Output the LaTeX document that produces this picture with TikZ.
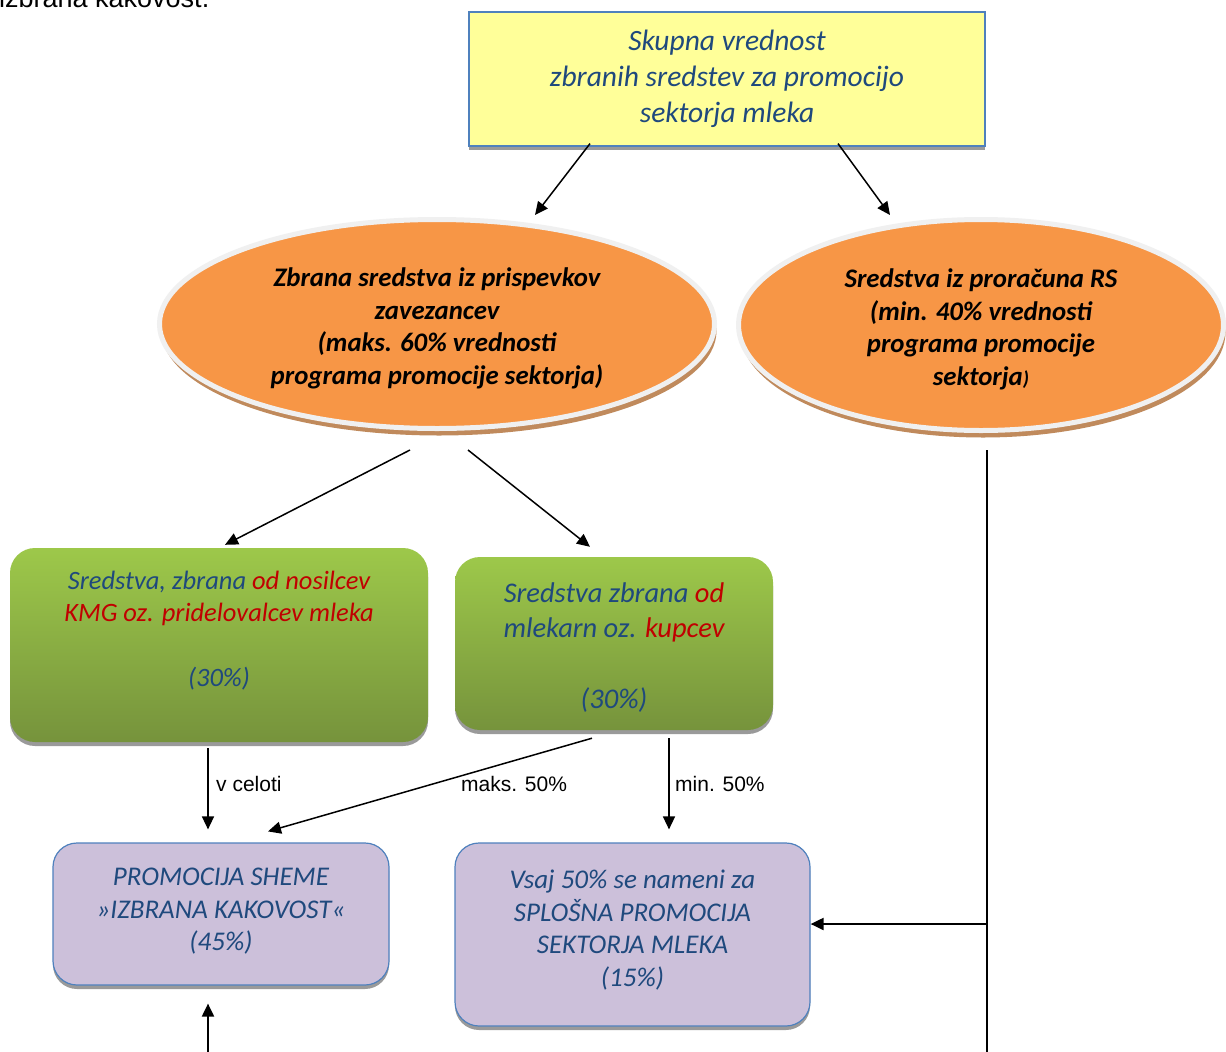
\documentclass[tikz,border=0pt]{standalone}
\usepackage{fontspec}
\setmainfont{Carlito}
\newfontfamily\arialf{Liberation Sans}
\usetikzlibrary{arrows.meta,shapes.geometric,shadows,calc}
\definecolor{ybox}{HTML}{FFFF99}
\definecolor{bord}{HTML}{4F81BD}
\definecolor{tblue}{HTML}{1F497D}
\definecolor{tred}{HTML}{C00000}
\definecolor{orng}{HTML}{F79646}
\definecolor{gtop}{HTML}{9DC84A}
\definecolor{gbot}{HTML}{76933C}
\definecolor{purp}{HTML}{CCC0DA}
\definecolor{shad}{HTML}{9A9A9A}
\definecolor{bshad}{HTML}{C08A5C}
\definecolor{rim}{HTML}{F0F0F0}
\begin{document}
\begin{tikzpicture}[x=1pt,y=-1pt,
  every node/.style={inner sep=0pt},
  yellowbox/.style={draw=bord, line width=1.2pt, fill=ybox, align=center, text=tblue,
    font=\fontsize{29.5}{36}\selectfont\itshape,
    drop shadow={fill=shad, opacity=1, shadow xshift=0pt, shadow yshift=-4pt}},
  ellbox/.style={shape=ellipse, draw=rim, line width=5pt, fill=orng, align=center, text=black,
    font=\fontsize{26.8}{32.5}\selectfont\bfseries\itshape,
    drop shadow={fill=bshad, opacity=1, shadow xshift=2pt, shadow yshift=-7pt}},
  greenbox/.style={rounded corners=25pt, top color=gtop, bottom color=gbot, draw=none, align=center, text=tblue,
    drop shadow={fill=shad, opacity=1, shadow xshift=0pt, shadow yshift=-4pt}},
  purpbox/.style={rounded corners=24pt, draw=bord, line width=1.2pt, fill=purp, align=center, text=tblue,
    font=\fontsize{27}{32.5}\selectfont\itshape,
    drop shadow={fill=shad, opacity=1, shadow xshift=0pt, shadow yshift=-4pt}},
  arr/.style={line width=1.5pt, -{Triangle[length=13pt,width=12pt]}},
  lbl/.style={font=\arialf\fontsize{21}{24}\selectfont, anchor=west, text=black}
]
\useasboundingbox (0,0) rectangle (1226,1052);
\clip (0,0) rectangle (1226,1052);
\fill[white] (0,0) rectangle (1226,1052);

\node[font=\arialf\fontsize{27}{30}\selectfont, anchor=base west, text=black] (intro) at (-1,7) {izbrana kakovost.};

\node[yellowbox, minimum width=516pt, minimum height=134pt] (top) at (727,79)
  {Skupna vrednost\\zbranih sredstev za promocijo\\sektorja mleka};

\node[ellbox, minimum width=555pt, minimum height=209pt] (el1) at (437,324)
  {\mbox{}\\[-4.5pt]Zbrana sredstva iz prispevkov\\zavezancev\\(maks. 60\% vrednosti\\programa promocije sektorja)};

\node[ellbox, minimum width=485pt, minimum height=211pt] (el2) at (981,325)
  {\mbox{}\\[-4.5pt]Sredstva iz proračuna RS\\(min. 40\% vrednosti\\programa promocije\\sektorja{\fontsize{20}{20}\selectfont)}};

\node[greenbox, minimum width=418pt, minimum height=194pt,
  font=\fontsize{26.5}{32.5}\selectfont\itshape] (g1) at (219,645)
  {Sredstva, zbrana {\color{tred}od nosilcev}\\{\color{tred}KMG oz. pridelovalcev mleka}\\\mbox{}\\(30\%)\\\mbox{}};

\node[greenbox, minimum width=318pt, minimum height=173pt,
  font=\fontsize{28.5}{35.5}\selectfont\itshape] (g2) at (614,643.5)
  {\mbox{}\\[-7.5pt]Sredstva zbrana {\color{tred}od}\\mlekarn oz. {\color{tred}kupcev}\\\mbox{}\\(30\%)};

\node[purpbox, minimum width=336pt, minimum height=142pt] (p1) at (221,914)
  {PROMOCIJA SHEME\\»IZBRANA KAKOVOST«\\(45\%)\\[-23pt]\mbox{}};

\node[purpbox, minimum width=355pt, minimum height=183pt] (p2) at (632.5,934.5)
  {Vsaj 50\% se nameni za\\SPLOŠNA PROMOCIJA\\SEKTORJA MLEKA\\(15\%)\\[-20pt]\mbox{}};

% arrows from top box
\draw[arr] ($(top.south)+(-137,-3)$) -- ($(el1.north)+(98,-2)$);
\draw[arr] ($(top.south)+(111,-3)$) -- ($(el2.north)+(-91,-2)$);

% arrows from left ellipse
\draw[arr] ($(el1.south)+(-27,19)$) -- ($(g1.north)+(6,-3)$);
\draw[arr] ($(el1.south)+(31,19)$) -- ($(g2.north)+(-24,-10)$);

% arrows from green boxes
\draw[arr] ($(g1.south)+(-11,6)$) -- ($(p1.north)+(-13,-13)$);
\draw[arr] ($(g2.south)+(-22,8)$) -- ($(p1.north)+(47,-11)$);
\draw[arr] ($(g2.south)+(55,8)$) -- ($(p2.north)+(36.5,-13)$);

\node[lbl] (l1) at (216,784) {v celoti};
\node[lbl] (l2) at (461,784) {maks. 50\%};
\node[lbl] (l3) at (675,784) {min. 50\%};

% right vertical line
\coordinate (rs) at ($(el2.south)+(6,17)$);
\coordinate (j) at (rs |- 0,924);
\coordinate (rb) at (rs |- 0,1060);
\draw[line width=2.8pt] (rs) -- (j);
\draw[line width=2pt] (j) -- (rb);
\draw[arr, line width=2pt] (j) -- (p2.east |- j);

% bottom arrow into PROMOCIJA SHEME
\coordinate (lb) at ($(p1.south)+(-13,80)$);
\draw[arr, line width=2pt] (lb) -- ($(p1.south)+(-13,18)$);
\end{tikzpicture}
\end{document}
